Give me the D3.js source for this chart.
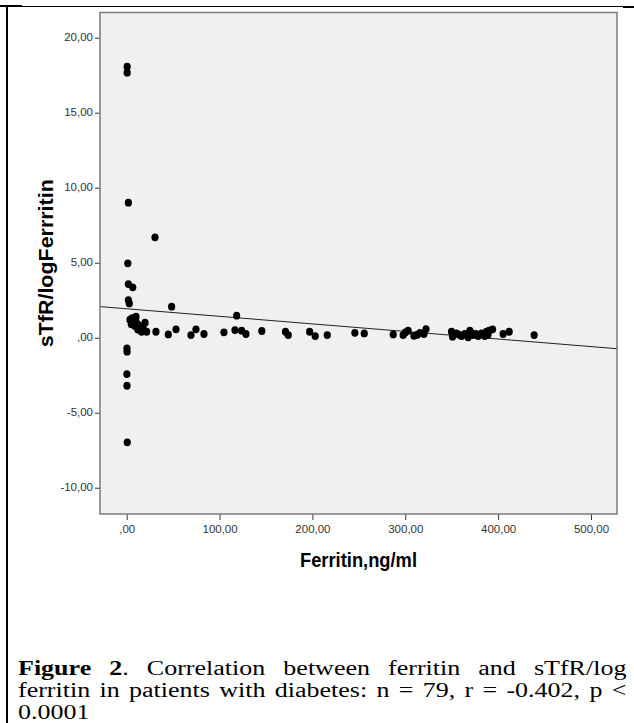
<!DOCTYPE html>
<html>
<head>
<meta charset="utf-8">
<script src="https://cdn.jsdelivr.net/npm/d3@7"></script>
<style>
  body { margin: 0; background: #fff; }
  #wrap { position: relative; width: 634px; height: 723px; overflow: hidden; }
  #chart { position: absolute; left: 0; top: 0; }
  #caption {
    position: absolute; left: 18px; top: 657px; width: 468px;
    font-family: "Liberation Serif", "Times New Roman", serif;
    font-size: 20px; line-height: 22px; color: #000;
    transform: scaleX(1.3); transform-origin: 0 0;
  }
  #caption .j { text-align: justify; text-align-last: justify; white-space: nowrap; }
</style>
</head>
<body>
<div id="wrap">
  <svg id="chart" width="634" height="723"></svg>
  <div id="caption">
    <div class="j"><b>Figure 2</b>. Correlation between ferritin and sTfR/log</div>
    <div class="j">ferritin in patients with diabetes: n = 79, r = -0.402, p &lt;</div>
    <div>0.0001</div>
  </div>
</div>
<script>
// values
let ferritin = [0.5, 0.5, 1.8, 1.2, 1.8, 6.5, 1.8, 2.8, 0.3, 0.4, 0.2, 0.3, 0.6,
  30.5, 48.4, 118.4,
  10.0, 7.1, 11.8, 8.9, 13.6, 16.1, 19.7, 21.5, 31.5, 44.8, 53.1, 69.2, 74.6, 83.2, 104.7, 116.6, 123.8, 128.4, 145.5,
  171, 174, 197, 203, 216, 245.7, 255.8,
  287, 297.7, 303.1, 309.3, 315.8, 320.1, 322.3,
  349.8, 350.9, 355.2, 360.6, 364.2, 367.7, 369.5, 373.1, 378.5, 382.1, 385.6, 387.5, 390.3, 394,
  405.4, 411.9, 438.8,
  3.5, 5.0, 9.5, 12.0, 14.5, 6.0, 18, 358, 371, 376, 389, 313, 300]
let ratio = [18.07, 17.67, 9.0, 4.96, 3.58, 3.36, 2.51, 2.29, -0.71, -0.93, -2.42, -3.2, -6.97,
  6.69, 2.07, 1.47,
  1.40, 1.0, 0.91, 0.78, 0.63, 0.40, 1.0, 0.40, 0.40, 0.22, 0.56, 0.18, 0.56, 0.25, 0.36, 0.51, 0.47, 0.25, 0.45,
  0.40, 0.18, 0.40, 0.11, 0.18, 0.33, 0.29,
  0.22, 0.18, 0.47, 0.13, 0.33, 0.25, 0.58,
  0.40, 0.07, 0.29, 0.11, 0.25, 0.03, 0.47, 0.18, 0.11, 0.29, 0.11, 0.40, 0.47, 0.56,
  0.25, 0.40, 0.18,
  1.2, 0.9, 1.15, 0.55, 0.75, 1.3, 0.55, 0.2, 0.3, 0.25, 0.2, 0.2, 0.35]
let xTicks = [0, 100, 200, 300, 400, 500]
let yTicks = [-10, -5, 0, 5, 10, 15, 20]
let fitIntercept = 1.93
let fitSlope = -0.00504

let svg = d3.select('#chart')

// table cell borders
svg.append('line').attr('x1', 0).attr('x2', 623).attr('y1', 6.5).attr('y2', 6.5).attr('stroke', '#000').attr('stroke-width', 1)
svg.append('rect').attr('x', 0).attr('y', 5).attr('width', 22).attr('height', 2).attr('fill', '#000')
svg.append('rect').attr('x', 623).attr('y', 6).attr('width', 11).attr('height', 2).attr('fill', '#000')
svg.append('rect').attr('x', 6).attr('y', 5).attr('width', 2).attr('height', 718).attr('fill', '#000')

let pLeft = 100, pRight = 617, pTop = 12.5, pBottom = 514

let xScale = d3.scaleLinear().domain([-28.75, 528]).range([pLeft, pRight])
let yScale = d3.scaleLinear().domain([-11.75, 21.68]).range([pBottom, pTop])

let fmt = (d) => d === 0 ? ',00' : d.toFixed(2).replace('.', ',')

svg.append('rect')
  .attr('x', pLeft).attr('y', pTop)
  .attr('width', pRight - pLeft).attr('height', pBottom - pTop)
  .attr('fill', '#f0f0f0')

let xAxis = svg.append('g')
  .attr('transform', 'translate(0,' + pBottom + ')')
  .call(d3.axisBottom(xScale).tickValues(xTicks).tickFormat(fmt).tickSize(6).tickPadding(6).tickSizeOuter(0))
let yAxis = svg.append('g')
  .attr('transform', 'translate(' + pLeft + ',0)')
  .call(d3.axisLeft(yScale).tickValues(yTicks).tickFormat(fmt).tickSize(5).tickPadding(2).tickSizeOuter(0))

for (let ax of [xAxis, yAxis]) {
  ax.select('.domain').remove()
  ax.selectAll('line').attr('stroke', '#333')
  ax.selectAll('text')
    .attr('fill', '#333')
    .style('font-family', '"Liberation Sans", Arial, sans-serif')
    .style('font-size', '10px')
    .each(function () {
      d3.select(this).attr('textLength', this.getComputedTextLength() * 1.15).attr('lengthAdjust', 'spacingAndGlyphs')
    })
}

// fit line
let xd = xScale.domain()
svg.append('line')
  .attr('x1', xScale(xd[0])).attr('y1', yScale(fitIntercept + fitSlope * xd[0]))
  .attr('x2', xScale(xd[1])).attr('y2', yScale(fitIntercept + fitSlope * xd[1]))
  .attr('stroke', '#222').attr('stroke-width', 1)

svg.append('g').selectAll('ellipse')
  .data(ferritin.map((f, i) => [f, ratio[i]]))
  .enter()
  .append('ellipse')
  .attr('cx', (d) => xScale(d[0]))
  .attr('cy', (d) => yScale(d[1]))
  .attr('rx', 3.6)
  .attr('ry', 3.9)
  .attr('fill', '#000')

svg.append('rect')
  .attr('x', pLeft).attr('y', pTop)
  .attr('width', pRight - pLeft).attr('height', pBottom - pTop)
  .attr('fill', 'none').attr('stroke', '#7a7a7a').attr('stroke-width', 1.5)

svg.append('text')
  .attr('x', (pLeft + pRight) / 2).attr('y', 566.5)
  .attr('text-anchor', 'middle')
  .attr('textLength', 117).attr('lengthAdjust', 'spacingAndGlyphs')
  .style('font-family', '"Liberation Sans", Arial, sans-serif')
  .style('font-size', '20px').style('font-weight', 'bold')
  .text('Ferritin,ng/ml')

svg.append('text')
  .attr('transform', 'translate(53,' + (pTop + pBottom) / 2 + ') rotate(-90)')
  .attr('text-anchor', 'middle')
  .attr('textLength', 168).attr('lengthAdjust', 'spacingAndGlyphs')
  .style('font-family', '"Liberation Sans", Arial, sans-serif')
  .style('font-size', '20px').style('font-weight', 'bold')
  .text('sTfR/logFerrritin')
</script>
</body>
</html>
